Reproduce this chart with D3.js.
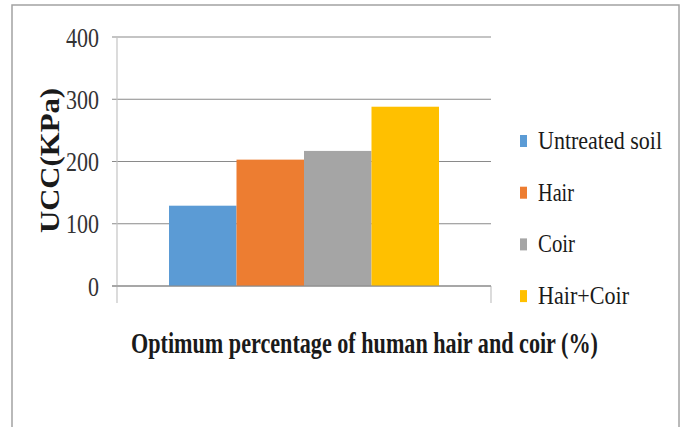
<!DOCTYPE html>
<html>
<head>
<meta charset="utf-8">
<script src="https://cdn.jsdelivr.net/npm/d3@7"></script>
<style>
  html, body { margin: 0; padding: 0; background: #fff; }
  svg { display: block; }
</style>
</head>
<body>
<script>
// UCC of soil with the optimum percentage of human hair and coir
const categories = ["Untreated soil", "Hair", "Coir", "Hair+Coir"];
const uccValues = [129, 203, 217, 288];
const yTicks = [0, 100, 200, 300, 400];
const colors = ["#5b9bd5", "#ed7d31", "#a5a5a5", "#ffc000"];
const group = ["Optimum"];

const FONT = "'Liberation Serif', Tinos, 'Times New Roman', 'DejaVu Serif', serif";
const W = 683, H = 427;
const plot = { left: 117, right: 491, top: 37, bottom: 286 };

const svg = d3.select("body").append("svg")
  .attr("width", W).attr("height", H)
  .style("font-family", FONT);

// chart frame (open at the bottom edge)
svg.append("rect")
  .attr("x", 12).attr("y", 5)
  .attr("width", 667).attr("height", 440)
  .attr("fill", "none").attr("stroke", "#a3a3a3").attr("stroke-width", 1.5);

const y = d3.scaleLinear().domain([0, 400]).range([plot.bottom, plot.top]);
const x0 = d3.scaleBand().domain(group).range([plot.left, plot.right])
  .paddingInner(0).paddingOuter(0.1926);
const x1 = d3.scaleBand().domain(categories).range([0, x0.bandwidth()]).padding(0);

// horizontal gridlines with short outward ticks
svg.append("g").selectAll("line").data(yTicks).join("line")
  .attr("x1", plot.left - 5).attr("x2", plot.right)
  .attr("y1", d => y(d)).attr("y2", d => y(d))
  .attr("stroke", "#8a8a8a").attr("stroke-width", 1.2);

// value axis line and category tick marks
svg.append("line")
  .attr("x1", plot.left).attr("x2", plot.left)
  .attr("y1", y(400)).attr("y2", plot.bottom + 17)
  .attr("stroke", "#c4c4c4").attr("stroke-width", 1.2);
svg.append("line")
  .attr("x1", plot.right).attr("x2", plot.right)
  .attr("y1", plot.bottom).attr("y2", plot.bottom + 17)
  .attr("stroke", "#c4c4c4").attr("stroke-width", 1.2);

// bars
svg.append("g").selectAll("rect").data(categories).join("rect")
  .attr("x", d => x0(group[0]) + x1(d))
  .attr("width", x1.bandwidth())
  .attr("y", (d, i) => y(uccValues[i]))
  .attr("height", (d, i) => y(0) - y(uccValues[i]))
  .attr("fill", (d, i) => colors[i]);

// baseline over the bars' bottom edge
svg.append("line")
  .attr("x1", plot.left - 5).attr("x2", plot.right)
  .attr("y1", y(0)).attr("y2", y(0))
  .attr("stroke", "#8a8a8a").attr("stroke-width", 1.2);

// y tick labels via the axis generator
const yAxis = d3.axisLeft(y).tickValues(yTicks).tickSize(0).tickPadding(0);
const ag = svg.append("g").attr("transform", `translate(99,0)`).call(yAxis);
ag.attr("font-family", null).attr("font-size", null);
ag.select(".domain").remove();
ag.selectAll("text")
  .style("font-family", FONT)
  .attr("font-size", 27)
  .attr("fill", "#333")
  .attr("x", 0)
  .attr("dy", "0.34em")
  .attr("textLength", d => String(d).length * 11)
  .attr("lengthAdjust", "spacingAndGlyphs");

// y axis title
svg.append("text")
  .style("font-family", FONT)
  .attr("transform", `translate(59,160.5) rotate(-90)`)
  .attr("text-anchor", "middle")
  .attr("font-size", 28).attr("font-weight", "bold").attr("fill", "#1a1a1a")
  .attr("textLength", 145).attr("lengthAdjust", "spacingAndGlyphs")
  .text("UCC(KPa)");

// x axis title
svg.append("text")
  .style("font-family", FONT)
  .attr("x", 364.5).attr("y", 353)
  .attr("text-anchor", "middle")
  .attr("font-size", 30).attr("font-weight", "bold").attr("fill", "#1a1a1a")
  .attr("textLength", 467).attr("lengthAdjust", "spacingAndGlyphs")
  .text("Optimum percentage of human hair and coir (%)");

// legend
const legendWidths = [124, 36, 37, 91];
const lg = svg.append("g").selectAll("g").data(categories).join("g")
  .attr("transform", (d, i) => `translate(520,${149 + i * 51.7})`);
lg.append("rect")
  .attr("x", 0).attr("y", -14).attr("width", 7).attr("height", 12)
  .attr("fill", (d, i) => colors[i]);
lg.append("text")
  .style("font-family", FONT)
  .attr("x", 18).attr("y", 0)
  .attr("font-size", 25).attr("fill", "#1a1a1a")
  .attr("textLength", (d, i) => legendWidths[i]).attr("lengthAdjust", "spacingAndGlyphs")
  .text(d => d);
</script>
</body>
</html>
